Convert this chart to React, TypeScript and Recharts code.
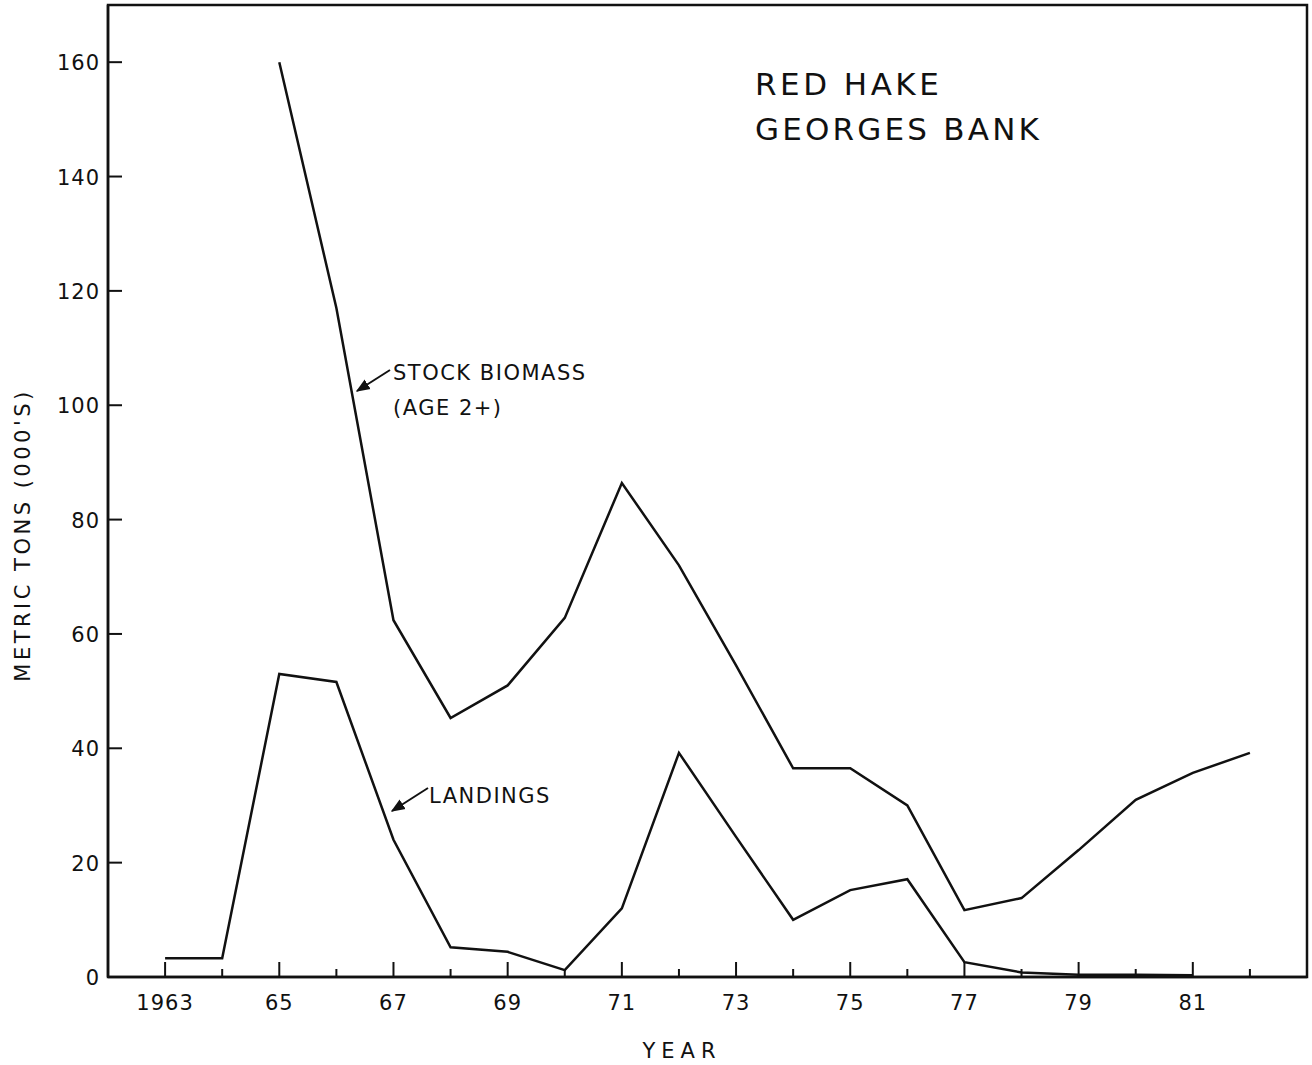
import { LineChart, Line, XAxis, YAxis, ReferenceArea } from 'recharts';

// values in thousands of metric tons
const years = [1963, 1964, 1965, 1966, 1967, 1968, 1969, 1970, 1971, 1972, 1973, 1974, 1975, 1976, 1977, 1978, 1979, 1980, 1981, 1982];
const biomass = [null, null, 160, 117, 62.4, 45.3, 51, 62.8, 86.4, 72, 54.5, 36.5, 36.5, 30, 11.7, 13.8, 22.2, 31, 35.7, 39.2];
const landings = [3.3, 3.3, 53, 51.6, 24, 5.2, 4.4, 1.2, 12, 39.2, 24.5, 10, 15.2, 17.1, 2.6, 0.8, 0.4, 0.4, 0.3, null];
const yTicks = [0, 20, 40, 60, 80, 100, 120, 140, 160];
const labeledYears = [1963, 1965, 1967, 1969, 1971, 1973, 1975, 1977, 1979, 1981];

const data = years.map((year, i) => ({ year, biomass: biomass[i], landings: landings[i] }));

const INK = '#111';
const FONT = '"DejaVu Sans", sans-serif';

function YearTick(props: any) {
  const { x, y, payload } = props;
  const v = payload.value as number;
  const major = labeledYears.includes(v);
  const label = v === 1963 ? '1963' : String(v).slice(2);
  return (
    <g>
      <line x1={x} y1={y} x2={x} y2={y - (major ? 15 : 8)} stroke={INK} strokeWidth={2} />
      {major && (
        <text x={x} y={y + 33} textAnchor="middle" fontSize={21} fontFamily={FONT} fill={INK} letterSpacing={1}>
          {label}
        </text>
      )}
    </g>
  );
}

function TonTick(props: any) {
  const { x, y, payload } = props;
  return (
    <g>
      <line x1={x} y1={y} x2={x + 14} y2={y} stroke={INK} strokeWidth={2} />
      <text x={x - 8} y={y + 8} textAnchor="end" fontSize={21} fontFamily={FONT} fill={INK} letterSpacing={1}>
        {payload.value}
      </text>
    </g>
  );
}

export default function App() {
  return (
    <div style={{ position: 'relative', width: 1312, height: 1065, background: '#fff' }}>
      <style>{'body{margin:0}'}</style>
      <LineChart width={1312} height={1065} data={data} margin={{ top: 5, right: 5, bottom: 0, left: 0 }}>
        <XAxis
          dataKey="year"
          type="number"
          domain={[1962, 1983]}
          ticks={years}
          interval={0}
          height={88}
          tickSize={0}
          tickMargin={0}
          tickLine={false}
          axisLine={{ stroke: INK, strokeWidth: 2.5 }}
          tick={<YearTick />}
        />
        <YAxis
          type="number"
          domain={[0, 170]}
          ticks={yTicks}
          interval={0}
          width={108}
          tickSize={0}
          tickMargin={0}
          tickLine={false}
          axisLine={{ stroke: INK, strokeWidth: 2.5 }}
          tick={<TonTick />}
        />
        <ReferenceArea x1={1962} x2={1983} y1={0} y2={170} fill="none" stroke={INK} strokeWidth={2.5} />
        <Line type="linear" dataKey="biomass" stroke={INK} strokeWidth={2.5} dot={false} isAnimationActive={false} />
        <Line type="linear" dataKey="landings" stroke={INK} strokeWidth={2.5} dot={false} isAnimationActive={false} />
      </LineChart>

      {/* titles and annotations */}
      <svg width={1312} height={1065} style={{ position: 'absolute', left: 0, top: 0, pointerEvents: 'none' }}>
        <defs>
          <marker id="head" viewBox="0 0 10 10" refX="9" refY="5" markerWidth="7" markerHeight="7" orient="auto">
            <path d="M0,1 L10,5 L0,9 z" fill={INK} />
          </marker>
        </defs>
        <g fontFamily={FONT} fill={INK}>
          <text x={755} y={95} fontSize={31} letterSpacing={3.5}>RED HAKE</text>
          <text x={755} y={140} fontSize={31} letterSpacing={3.2}>GEORGES BANK</text>

          <text x={393} y={380} fontSize={21} letterSpacing={1.5}>STOCK BIOMASS</text>
          <text x={393} y={415} fontSize={21} letterSpacing={1.5}>(AGE 2+)</text>
          <line x1={390} y1={370} x2={357} y2={391} stroke={INK} strokeWidth={2} markerEnd="url(#head)" />

          <text x={429} y={803} fontSize={21} letterSpacing={1.5}>LANDINGS</text>
          <line x1={428} y1={788} x2={392} y2={811} stroke={INK} strokeWidth={2} markerEnd="url(#head)" />

          <text x={682} y={1058} fontSize={21} letterSpacing={6} textAnchor="middle">YEAR</text>
          <text
            x={30}
            y={535}
            fontSize={21}
            letterSpacing={3.5}
            textAnchor="middle"
            transform="rotate(-90 30 535)"
          >
            METRIC TONS (000'S)
          </text>
        </g>
      </svg>
    </div>
  );
}
